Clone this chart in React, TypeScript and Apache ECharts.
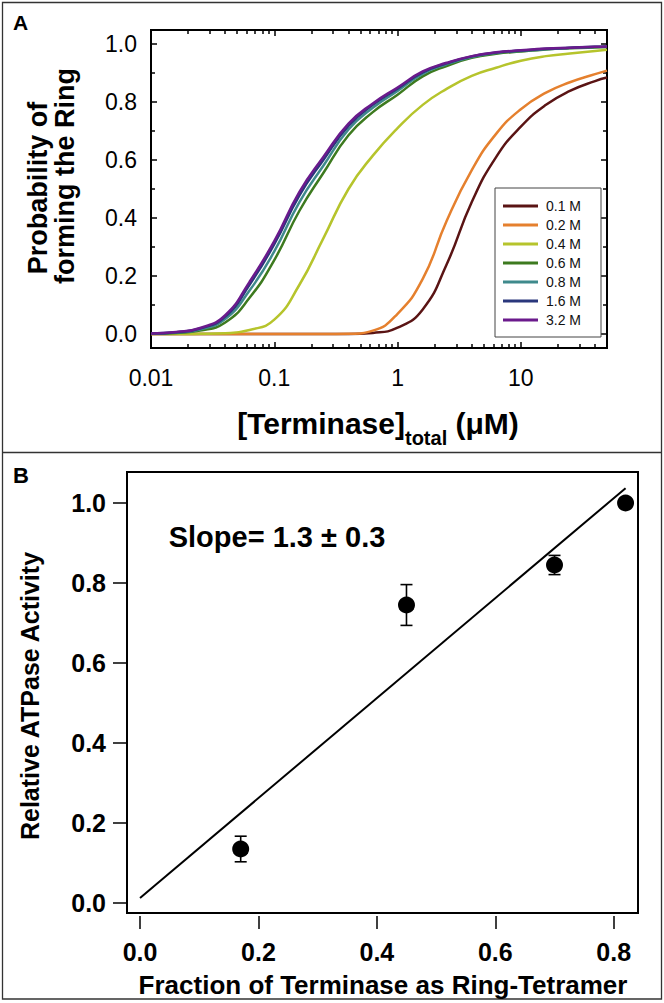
import React, { useEffect, useRef } from "react";
import * as echarts from "echarts";

const FONT = '"Liberation Sans", Arial, Helvetica, sans-serif';

// ---------- Panel A data ----------
const concentration = [0.01, 0.016, 0.025, 0.04, 0.063, 0.1, 0.16, 0.25, 0.4, 0.63, 1, 1.6, 2.5, 4, 6.3, 10, 16, 25, 40, 50];
const saltNames = ["0.1 M", "0.2 M", "0.4 M", "0.6 M", "0.8 M", "1.6 M", "3.2 M"];
const prob01 = [0, 0, 0, 0, 0, 0, 0, 0, 0, 0.004, 0.022, 0.085, 0.24, 0.455, 0.61, 0.715, 0.79, 0.838, 0.872, 0.884];
const prob02 = [0, 0, 0, 0, 0, 0, 0, 0, 0.001, 0.012, 0.07, 0.19, 0.39, 0.565, 0.69, 0.775, 0.832, 0.868, 0.896, 0.908];
const prob04 = [0, 0, 0.001, 0.003, 0.014, 0.05, 0.17, 0.33, 0.5, 0.615, 0.71, 0.79, 0.845, 0.89, 0.918, 0.942, 0.958, 0.967, 0.976, 0.98];
const prob06 = [0.001, 0.004, 0.012, 0.04, 0.125, 0.255, 0.425, 0.555, 0.685, 0.765, 0.825, 0.888, 0.924, 0.952, 0.966, 0.974, 0.981, 0.985, 0.988, 0.989];
const prob08 = [0.001, 0.005, 0.016, 0.052, 0.15, 0.285, 0.455, 0.58, 0.705, 0.78, 0.838, 0.897, 0.93, 0.955, 0.969, 0.976, 0.982, 0.986, 0.989, 0.99];
const prob16 = [0.002, 0.006, 0.019, 0.06, 0.17, 0.31, 0.478, 0.6, 0.717, 0.79, 0.846, 0.902, 0.933, 0.957, 0.97, 0.977, 0.983, 0.987, 0.99, 0.991];
const prob32 = [0.002, 0.007, 0.021, 0.065, 0.18, 0.32, 0.49, 0.61, 0.725, 0.795, 0.85, 0.905, 0.935, 0.958, 0.971, 0.978, 0.984, 0.987, 0.99, 0.991];
const xDecadeLabels = ["0.01", "0.1", "1", "10"];
const xMinorTicks = [0.02, 0.03, 0.04, 0.05, 0.06, 0.07, 0.08, 0.09, 0.2, 0.3, 0.4, 0.5, 0.6, 0.7, 0.8, 0.9, 2, 3, 4, 5, 6, 7, 8, 9, 20, 30, 40];
const yMajorTicksA = [0, 0.2, 0.4, 0.6, 0.8, 1.0];
const yMinorTicksA = [0.1, 0.3, 0.5, 0.7, 0.9];

// ---------- Panel B data ----------
const ringFraction = [0.17, 0.45, 0.7, 0.82];
const relActivity = [0.135, 0.745, 0.845, 1.0];
const activityErr = [0.032, 0.051, 0.024, 0];
const fitFraction = [0, 0.82];
const fitActivity = [0.0125, 1.037];
const xTicksB = [0, 0.2, 0.4, 0.6, 0.8];
const yTicksB = [0, 0.2, 0.4, 0.6, 0.8, 1.0];

const saltColors = ["#5a1414", "#e5802e", "#b6c42c", "#3d7a1f", "#3f8a8c", "#2a377c", "#6b1a8c"];

export default function App() {
  const ref = useRef<HTMLDivElement>(null);

  useEffect(() => {
    const chart = echarts.init(ref.current!, null, { renderer: "svg" });
    const probs = [prob01, prob02, prob04, prob06, prob08, prob16, prob32];

    const tickLine = { color: "#000", width: 1.5 };
    const noLine = { show: false, onZero: false };
    const noSplit = { show: false };
    const fmt1 = (v: number) => (Math.round(v * 10) / 10).toFixed(1);
    const decadeFmt = (v: number) => {
      const l = Math.log10(v);
      const r = Math.round(l);
      if (Math.abs(l - r) < 1e-6 && r >= -2 && r <= 1) return xDecadeLabels[r + 2];
      return "";
    };

    const lineSeries = saltNames.map((name, i) => ({
      type: "line",
      name,
      xAxisIndex: 0,
      yAxisIndex: 0,
      data: concentration.map((c, j) => [c, probs[i][j]]),
      showSymbol: false,
      symbol: "none",
      smooth: 0.5,
      lineStyle: { color: saltColors[i], width: 2.5 },
      itemStyle: { color: saltColors[i] },
      z: 3 + i,
      silent: true,
    }));

    const option: any = {
      animation: false,
      backgroundColor: "#fff",
      textStyle: { fontFamily: FONT },
      grid: [
        { left: 151, top: 30, width: 456, height: 318, show: true, borderColor: "#000", borderWidth: 2, backgroundColor: "transparent", containLabel: false, outerBoundsMode: "none" },
        { left: 127, top: 472, width: 511, height: 441, show: true, borderColor: "#000", borderWidth: 2, backgroundColor: "transparent", containLabel: false, outerBoundsMode: "none" },
      ],
      legend: {
        data: saltNames,
        orient: "vertical",
        left: 495,
        top: 188,
        icon: "rect",
        itemWidth: 35,
        itemHeight: 3,
        itemGap: 5,
        padding: [11, 20, 10, 8],
        borderColor: "#444",
        borderWidth: 1,
        backgroundColor: "#fff",
        selectedMode: false,
        textStyle: { fontSize: 14, fontFamily: FONT, color: "#111", lineHeight: 14, padding: [0, 0, 0, 3] },
      },
      xAxis: [
        {
          gridIndex: 0, type: "log", logBase: 10, min: 0.01, max: 50, position: "bottom",
          axisLine: noLine, splitLine: noSplit,
          axisTick: { inside: true, length: 6, lineStyle: tickLine },
          axisLabel: { fontSize: 23, color: "#000", fontFamily: FONT, margin: 18, formatter: decadeFmt },
        },
        {
          gridIndex: 0, type: "log", logBase: 10, min: 0.01, max: 50, position: "top",
          axisLine: noLine, splitLine: noSplit,
          axisTick: { inside: true, length: 6, lineStyle: tickLine },
          axisLabel: { show: false },
        },
        {
          gridIndex: 0, type: "value", min: -2, max: Math.log10(50), position: "bottom",
          axisLine: noLine, splitLine: noSplit,
          axisTick: { inside: true, length: 4, lineStyle: tickLine, customValues: xMinorTicks.map((v) => Math.log10(v)) },
          axisLabel: { show: false },
        },
        {
          gridIndex: 0, type: "value", min: -2, max: Math.log10(50), position: "top",
          axisLine: noLine, splitLine: noSplit,
          axisTick: { inside: true, length: 4, lineStyle: tickLine, customValues: xMinorTicks.map((v) => Math.log10(v)) },
          axisLabel: { show: false },
        },
        {
          gridIndex: 1, type: "value", min: -0.022, max: 0.841, position: "bottom", offset: 3,
          axisLine: noLine, splitLine: noSplit,
          axisTick: { inside: false, length: 13, lineStyle: tickLine, customValues: xTicksB },
          axisLabel: { customValues: xTicksB, formatter: fmt1, fontSize: 25, fontWeight: "bold", color: "#000", fontFamily: FONT, margin: 23 },
        },
      ],
      yAxis: [
        {
          gridIndex: 0, type: "value", min: -0.048, max: 1.048, position: "left",
          axisLine: noLine, splitLine: noSplit,
          axisTick: { inside: true, length: 6, lineStyle: tickLine, customValues: yMajorTicksA },
          axisLabel: { customValues: yMajorTicksA, formatter: fmt1, fontSize: 23, color: "#000", fontFamily: FONT, margin: 14 },
        },
        {
          gridIndex: 0, type: "value", min: -0.048, max: 1.048, position: "left",
          axisLine: noLine, splitLine: noSplit,
          axisTick: { inside: true, length: 4, lineStyle: tickLine, customValues: yMinorTicksA },
          axisLabel: { show: false },
        },
        {
          gridIndex: 0, type: "value", min: -0.048, max: 1.048, position: "right",
          axisLine: noLine, splitLine: noSplit,
          axisTick: { inside: true, length: 6, lineStyle: tickLine, customValues: yMajorTicksA },
          axisLabel: { show: false },
        },
        {
          gridIndex: 0, type: "value", min: -0.048, max: 1.048, position: "right",
          axisLine: noLine, splitLine: noSplit,
          axisTick: { inside: true, length: 4, lineStyle: tickLine, customValues: yMinorTicksA },
          axisLabel: { show: false },
        },
        {
          gridIndex: 1, type: "value", min: -0.025, max: 1.0775, position: "left",
          axisLine: noLine, splitLine: noSplit,
          axisTick: { inside: false, length: 14, lineStyle: tickLine, customValues: yTicksB },
          axisLabel: { customValues: yTicksB, formatter: fmt1, fontSize: 25, fontWeight: "bold", color: "#000", fontFamily: FONT, margin: 21 },
        },
      ],
      series: [
        ...lineSeries,
        {
          type: "line",
          name: "fit",
          xAxisIndex: 4,
          yAxisIndex: 4,
          data: fitFraction.map((x, i) => [x, fitActivity[i]]),
          symbol: "none",
          showSymbol: false,
          lineStyle: { color: "#000", width: 2 },
          z: 2,
          silent: true,
        },
        {
          type: "custom",
          name: "err",
          xAxisIndex: 4,
          yAxisIndex: 4,
          coordinateSystem: "cartesian2d",
          encode: { x: 0, y: 1 },
          data: ringFraction.map((x, i) => [x, relActivity[i], activityErr[i]]),
          renderItem: (_params: any, api: any) => {
            const x = api.value(0);
            const y = api.value(1);
            const e = api.value(2);
            if (!e) return { type: "group", children: [] };
            const top = api.coord([x, y + e]);
            const bot = api.coord([x, y - e]);
            const w = 6;
            const style = { stroke: "#000", lineWidth: 1.6, fill: "none" };
            return {
              type: "group",
              children: [
                { type: "line", shape: { x1: top[0], y1: top[1], x2: bot[0], y2: bot[1] }, style },
                { type: "line", shape: { x1: top[0] - w, y1: top[1], x2: top[0] + w, y2: top[1] }, style },
                { type: "line", shape: { x1: bot[0] - w, y1: bot[1], x2: bot[0] + w, y2: bot[1] }, style },
              ],
            };
          },
          z: 3,
          silent: true,
        },
        {
          type: "scatter",
          name: "activity",
          xAxisIndex: 4,
          yAxisIndex: 4,
          data: ringFraction.map((x, i) => [x, relActivity[i]]),
          symbol: "circle",
          symbolSize: 17,
          itemStyle: { color: "#000", opacity: 1 },
          z: 4,
          silent: true,
        },
      ],
      graphic: [
        { type: "rect", silent: true, shape: { x: 2.5, y: 2.5, width: 659, height: 996.5 }, style: { fill: "none", stroke: "#333", lineWidth: 1.3 } },
        { type: "line", silent: true, shape: { x1: 2.5, y1: 452.5, x2: 661.5, y2: 452.5 }, style: { stroke: "#333", lineWidth: 1.5 } },
        { type: "text", silent: true, x: 13, y: 22, style: { text: "A", font: `bold 21px ${FONT}`, fill: "#000", align: "left", verticalAlign: "middle" } },
        { type: "text", silent: true, x: 13, y: 475, style: { text: "B", font: `bold 22px ${FONT}`, fill: "#000", align: "left", verticalAlign: "middle" } },
        { type: "text", silent: true, x: 38, y: 188, rotation: Math.PI / 2, style: { text: "Probability of", font: `bold 27px ${FONT}`, fill: "#000", align: "center", verticalAlign: "middle" } },
        { type: "text", silent: true, x: 65, y: 176, rotation: Math.PI / 2, style: { text: "forming the Ring", font: `bold 27px ${FONT}`, fill: "#000", align: "center", verticalAlign: "middle" } },
        {
          type: "text", silent: true, x: 378, y: 428,
          style: {
            text: "{a|[Terminase]}{b|total}{a| (μM)}",
            align: "center", verticalAlign: "middle", fill: "#000",
            rich: {
              a: { font: `bold 30px ${FONT}`, fill: "#000", lineHeight: 30, verticalAlign: "top" },
              b: { font: `bold 20px ${FONT}`, fill: "#000", lineHeight: 40, verticalAlign: "bottom" },
            },
          },
        },
        { type: "text", silent: true, x: 30, y: 696, rotation: Math.PI / 2, style: { text: "Relative ATPase Activity", font: `bold 25px ${FONT}`, fill: "#000", align: "center", verticalAlign: "middle" } },
        { type: "text", silent: true, x: 383, y: 985, style: { text: "Fraction of Terminase as Ring-Tetramer", font: `bold 26px ${FONT}`, fill: "#000", align: "center", verticalAlign: "middle" } },
        { type: "text", silent: true, x: 277, y: 537, style: { text: "Slope= 1.3 ± 0.3", font: `bold 29px ${FONT}`, fill: "#000", align: "center", verticalAlign: "middle" } },
      ],
    };

    chart.setOption(option);
    return () => chart.dispose();
  }, []);

  return (
    <div
      ref={ref}
      style={{ position: "absolute", left: 0, top: 0, width: 664, height: 1003, background: "#fff" }}
    />
  );
}
